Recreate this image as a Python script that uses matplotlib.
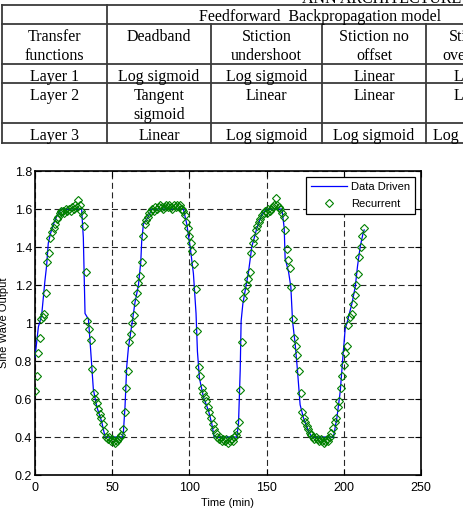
import numpy as np
import matplotlib
matplotlib.use('Agg')
import matplotlib.pyplot as plt

# ---- table above the chart ----
table_title = "ANN ARCHITECTURE"
table_group = "Feedforward  Backpropagation model"
table_head = ["Transfer\nfunctions", "Deadband", "Stiction\nundershoot", "Stiction no\noffset", "Stiction\novershoot"]
table_layer1 = ["Layer 1", "Log sigmoid", "Log sigmoid", "Linear", "Linear"]
table_layer2 = ["Layer 2", "Tangent\nsigmoid", "Linear", "Linear", "Linear"]
table_layer3 = ["Layer 3", "Linear", "Log sigmoid", "Log sigmoid", "Log sigmoid"]

# ---- chart data ----
# Data Driven (blue line)
dd_time = [0, 2.2, 4.3, 6.4, 7.5, 8.6, 10, 11.9, 14, 17, 24, 30.2, 31.3, 32.4, 34.6, 35.6,
           37.8, 40, 43.2, 45.4, 56.5, 57.2, 58.3, 59.4, 60.5, 62.7, 64.8, 67, 68.5, 69.1,
           70.2, 73.4, 75.6, 96.1, 98.3, 100.5, 102.6, 104.3, 105.2, 106.5, 109.1, 112.3,
           114.5, 116, 130.7, 131.8, 132.9, 133.5, 134.6, 136.1, 138.3, 140.4, 143.7, 146.9,
           150.2, 159.9, 161.4, 162, 164.2, 165.7, 166.8, 168.5, 170, 171.7, 173.9, 177.1,
           179.3, 193.3, 195.5, 197.7, 199.4, 200.9, 202.4, 203, 205.2, 207.4, 208.9, 210.6,
           212.4, 213.2]
dd_value = [0.82, 0.98, 1.04, 1.22, 1.30, 1.42, 1.47, 1.52, 1.56, 1.60, 1.60, 1.60, 1.45, 1.05,
            1.02, 0.91, 0.65, 0.56, 0.48, 0.40, 0.40, 0.42, 0.56, 0.77, 0.87, 0.99, 1.11, 1.20,
            1.32, 1.43, 1.52, 1.56, 1.60, 1.60, 1.52, 1.40, 1.26, 1.05, 0.85, 0.71, 0.61, 0.54,
            0.47, 0.40, 0.40, 0.47, 0.75, 1.01, 1.10, 1.17, 1.27, 1.40, 1.50, 1.57, 1.60, 1.60,
            1.50, 1.34, 1.27, 1.19, 1.01, 0.89, 0.75, 0.57, 0.50, 0.43, 0.40, 0.40, 0.50, 0.64,
            0.82, 0.97, 1.01, 1.03, 1.10, 1.19, 1.30, 1.40, 1.47, 1.49]

# Recurrent (green diamonds), one sample per minute
rec_time = np.arange(0, 214)
rec_value = [
    # rise 1 (0-17)
    0.64, 0.72, 0.84, 0.92, 1.02, 1.03, 1.05, 1.16, 1.32, 1.37, 1.45, 1.48, 1.50, 1.52, 1.55,
    1.56, 1.58, 1.59,
    # peak 1 (18-30)
    1.59, 1.58, 1.60, 1.59, 1.60, 1.59, 1.61, 1.60, 1.62, 1.61, 1.65, 1.62, 1.59,
    # fall 1 (31-45)
    1.57, 1.51, 1.27, 1.01, 0.97, 0.91, 0.76, 0.63, 0.60, 0.58, 0.55, 0.52, 0.50, 0.47, 0.43,
    # trough 1 (46-57)
    0.40, 0.39, 0.40, 0.38, 0.39, 0.38, 0.37, 0.38, 0.39, 0.40, 0.41, 0.44,
    # rise 2 (58-73)
    0.53, 0.66, 0.75, 0.90, 0.94, 1.00, 1.04, 1.11, 1.16, 1.21, 1.25, 1.32, 1.46, 1.52, 1.54,
    1.56,
    # peak 2 (74-96)
    1.58, 1.59, 1.60, 1.59, 1.61, 1.60, 1.61, 1.62, 1.61, 1.60, 1.61, 1.62, 1.61, 1.62, 1.61,
    1.60, 1.62, 1.61, 1.62, 1.61, 1.62, 1.60, 1.59,
    # fall 2 (97-117)
    1.57, 1.53, 1.50, 1.46, 1.42, 1.38, 1.31, 1.18, 0.96, 0.77, 0.72, 0.66, 0.63, 0.61, 0.59,
    0.56, 0.53, 0.50, 0.47, 0.44, 0.42,
    # trough 2 (118-131)
    0.40, 0.39, 0.40, 0.38, 0.39, 0.38, 0.39, 0.37, 0.38, 0.39, 0.38, 0.40, 0.41, 0.43,
    # rise 3 (132-149)
    0.48, 0.65, 0.90, 1.13, 1.17, 1.20, 1.23, 1.27, 1.37, 1.42, 1.45, 1.49, 1.51, 1.53, 1.55,
    1.57, 1.58, 1.59,
    # peak 3 (150-160)
    1.58, 1.60, 1.59, 1.60, 1.61, 1.62, 1.66, 1.62, 1.61, 1.60, 1.58,
    # fall 3 (161-178)
    1.56, 1.49, 1.39, 1.33, 1.29, 1.19, 1.02, 0.92, 0.88, 0.83, 0.75, 0.63, 0.53, 0.50, 0.48,
    0.46, 0.44, 0.42,
    # trough 3 (179-192)
    0.41, 0.40, 0.39, 0.40, 0.39, 0.38, 0.39, 0.38, 0.37, 0.38, 0.39, 0.38, 0.40, 0.42,
    # rise 4 (193-213)
    0.45, 0.48, 0.50, 0.56, 0.59, 0.66, 0.72, 0.78, 0.84, 0.88, 0.99, 1.03, 1.05, 1.10, 1.15,
    1.20, 1.26, 1.35, 1.40, 1.46, 1.50,
]

x_ticks = [0, 50, 100, 150, 200, 250]
y_ticks = [0.2, 0.4, 0.6, 0.8, 1.0, 1.2, 1.4, 1.6, 1.8]
y_tick_labels = ['0.2', '0.4', '0.6', '0.8', '1', '1.2', '1.4', '1.6', '1.8']

W, H = 464, 514
fig = plt.figure(figsize=(W / 100, H / 100), dpi=100)

# table drawn in pixel coordinates (it runs past the right edge, as in the source)
tab = fig.add_axes([0, 0, 1, 1])
tab.set_xlim(0, W)
tab.set_ylim(H, 0)
tab.axis('off')

serif = dict(family='Liberation Serif', fontsize=11.5, color='black', va='baseline', ha='center')
col_edges = [2, 107, 211, 322, 426, 530]
row_edges = [5, 24, 64, 83, 123, 143]
line_kw = dict(color='#3a3a3a', lw=1.3, clip_on=False)

for y in row_edges:
    tab.plot([col_edges[0], W + 10], [y, y], **line_kw)
tab.plot([col_edges[0]] * 2, [row_edges[0], row_edges[-1]], **line_kw)
tab.plot([col_edges[1]] * 2, [row_edges[0], row_edges[-1]], **line_kw)
for x in col_edges[2:]:
    tab.plot([x, x], [row_edges[1], row_edges[-1]], **line_kw)

fig.text(302 / W, 1 - 3 / H, table_title, family='Liberation Serif', fontsize=11.5,
         va='baseline', ha='left')
tab.text(320, row_edges[0] + 16, table_group, **serif)

centers = [(col_edges[i] + col_edges[i + 1]) / 2 for i in range(5)]
centers[4] = 474
for r, row in enumerate([table_head, table_layer1, table_layer2, table_layer3]):
    top = row_edges[r + 1]
    for c, cell in enumerate(row):
        for k, part in enumerate(cell.split('\n')):
            tab.text(centers[c], top + 16.8 + 19.5 * k, part, **serif)

# chart
plt.rcParams['font.family'] = ['Liberation Sans', 'DejaVu Sans']
ax = fig.add_axes([35 / W, 1 - 475 / H, 386 / W, 304 / H])
ax.plot(dd_time, dd_value, color='#0000ff', lw=0.9, label='Data Driven', zorder=3)
ax.plot(rec_time, rec_value, linestyle='none', marker='D', ms=4.4, mfc='none',
        mec='#008000', mew=0.8, label='Recurrent', zorder=4)

ax.set_xlim(0, 250)
ax.set_ylim(0.2, 1.8)
ax.set_xticks(x_ticks)
ax.set_yticks(y_ticks)
ax.set_yticklabels(y_tick_labels)
ax.tick_params(direction='in', length=4, width=0.8, labelsize=9, top=True, right=True)
ax.tick_params(axis='x', pad=5)
ax.tick_params(axis='y', pad=2)
for s in ax.spines.values():
    s.set_linewidth(1.2)
ax.grid(True, color='0.15', linestyle=(0, (5.4, 3.2)), linewidth=0.8)
ax.set_axisbelow(True)

ax.set_xlabel('Time (min)', fontsize=8, labelpad=3)
ax.set_ylabel('Sine Wave Output', fontsize=8)
ax.yaxis.set_label_coords(-0.068, 0.5)

leg = ax.legend(loc='upper right', fontsize=8, fancybox=False, framealpha=1,
                edgecolor='black', handlelength=3.2, borderaxespad=0.5,
                labelspacing=0.7, handletextpad=0.4, borderpad=0.45)
leg.get_frame().set_linewidth(0.9)

fig.savefig('out.png', dpi=100)
